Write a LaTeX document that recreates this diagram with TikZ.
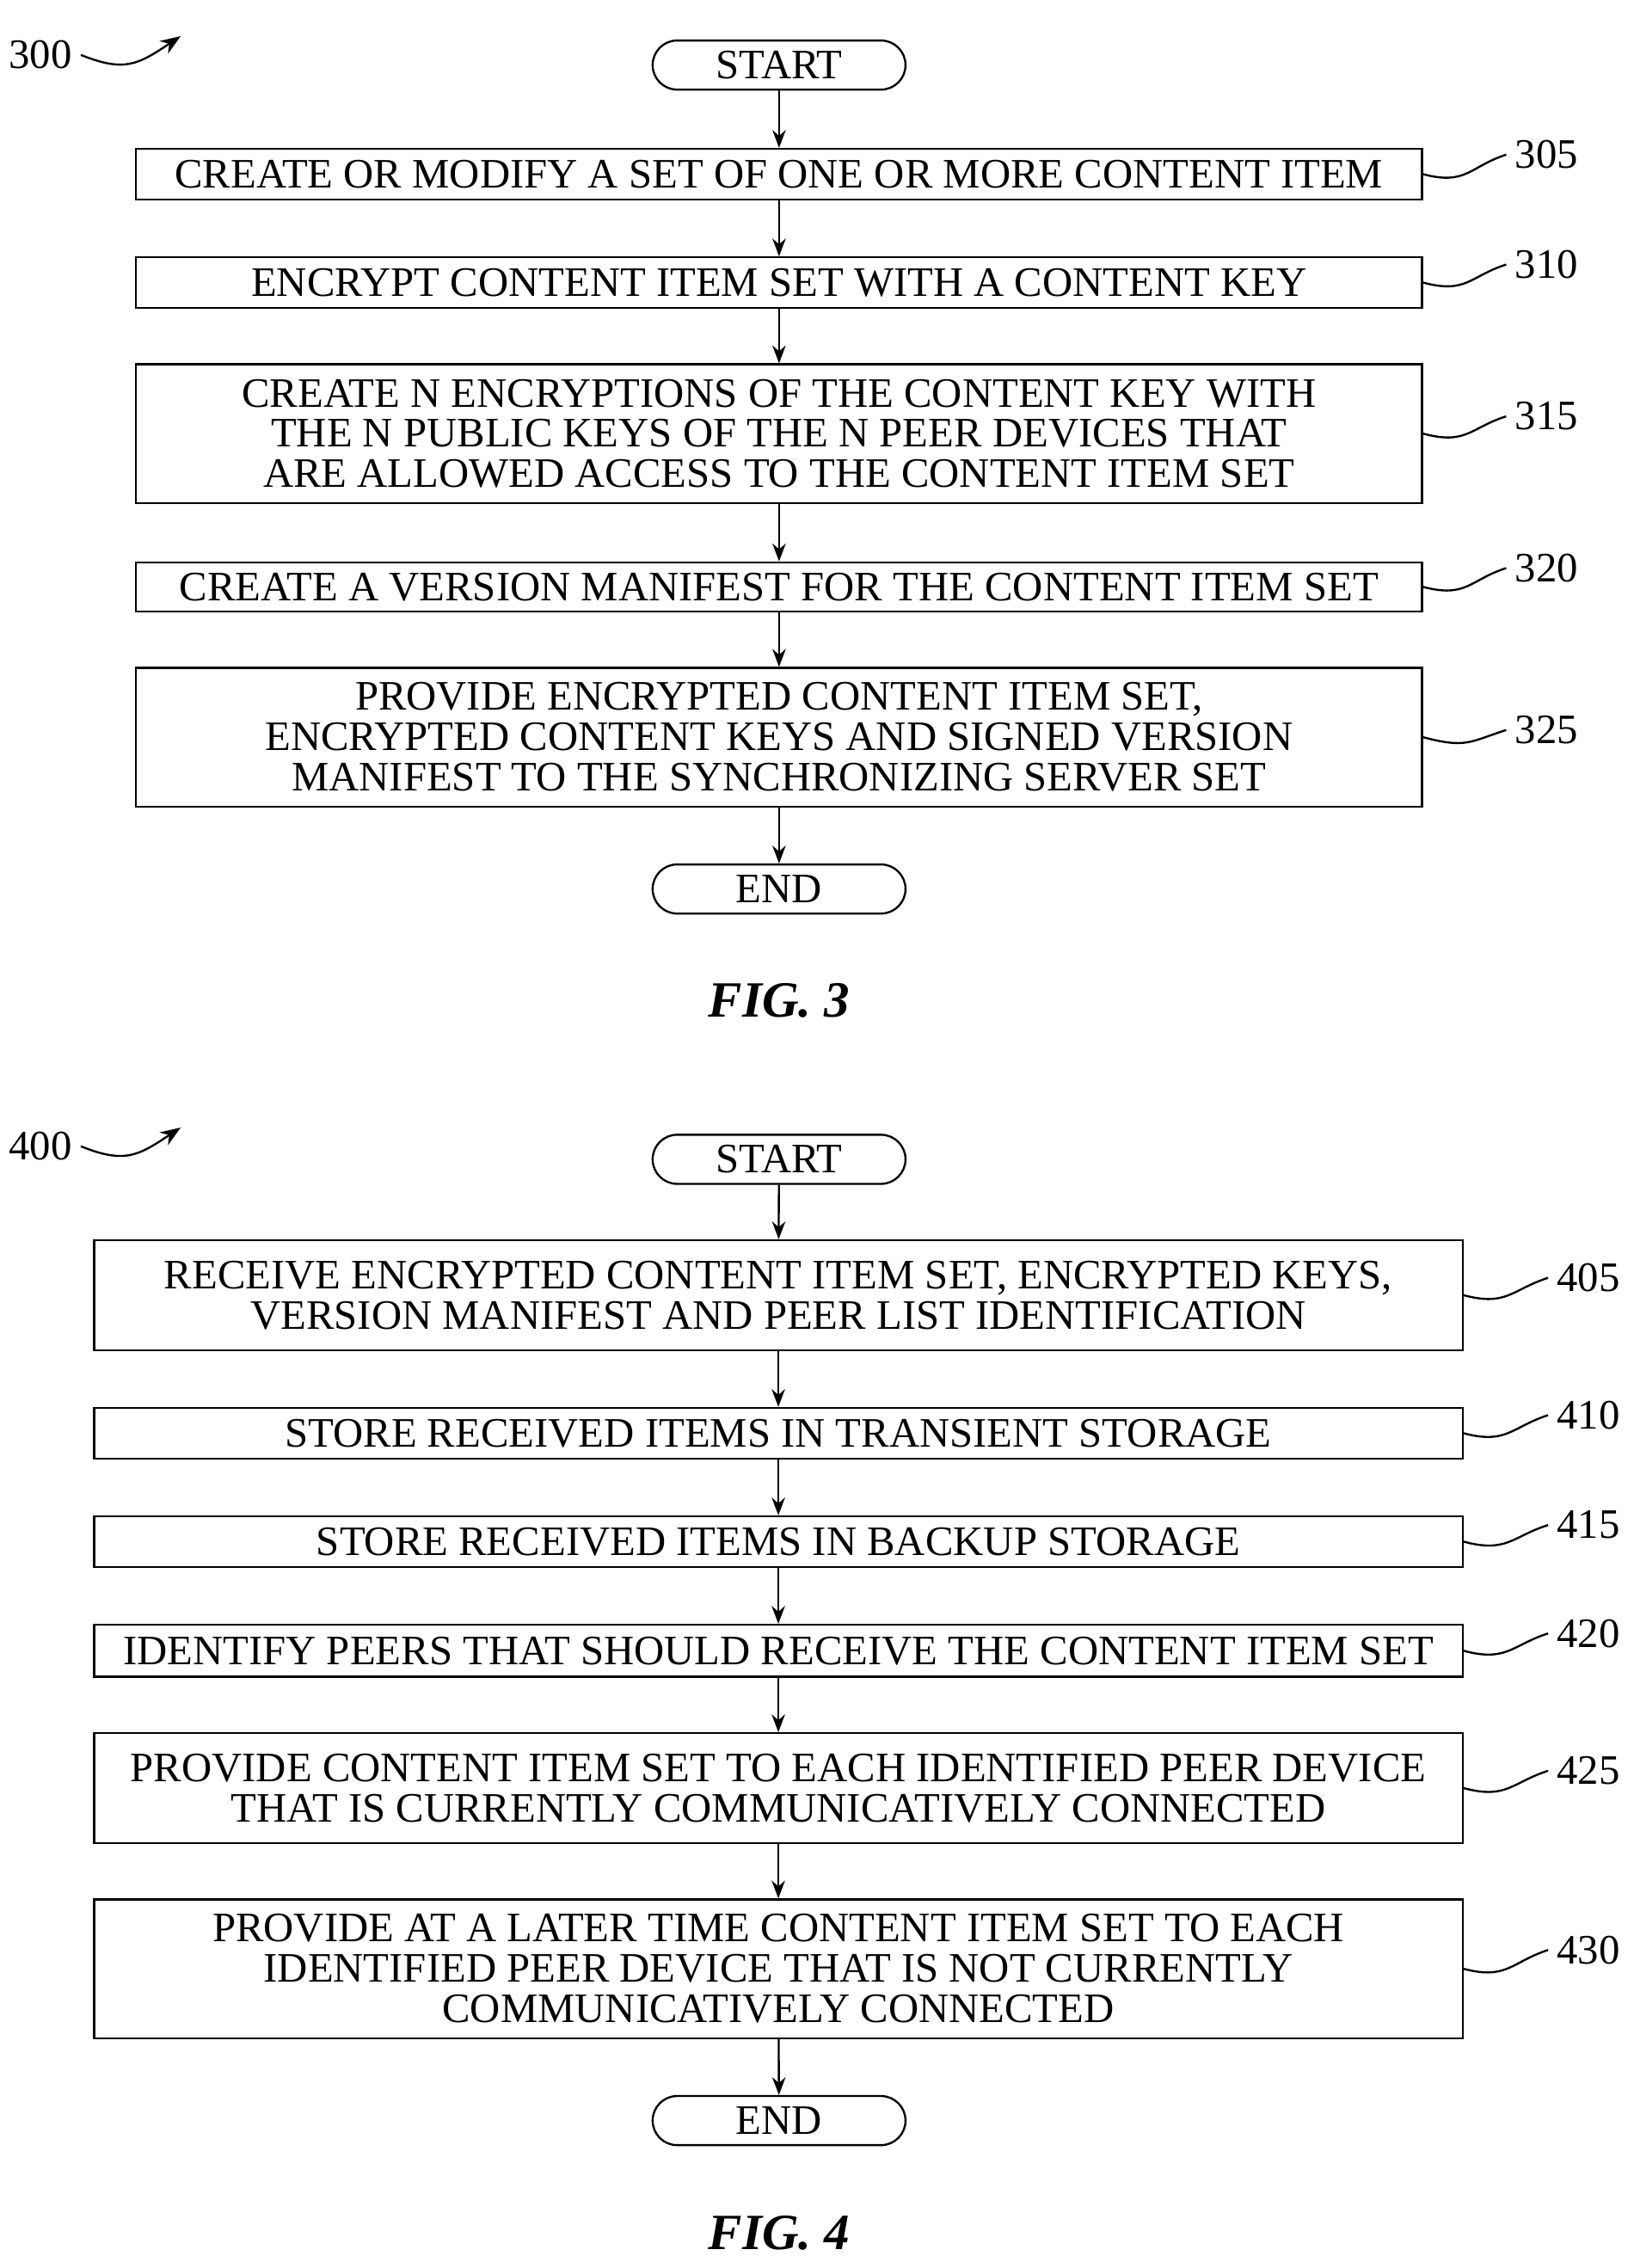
\documentclass[tikz,border=0pt]{standalone}
\usepackage{fontspec}
\setmainfont{Liberation Serif}
\usetikzlibrary{arrows.meta}
\tikzset{
  step/.style={draw,thick,align=center,inner sep=0pt,minimum height=#1},
  narrow/.style={minimum width=17.8cm},
  wide/.style={minimum width=18.94cm},
  term/.style={draw,thick,rounded corners=0.34cm,minimum width=3.5cm,minimum height=0.68cm,inner sep=0pt},
  flow/.style={->,thick,>={Stealth[length=7pt]}},
  ref/.style={thick},
  fig/.style={font=\fontsize{20}{22}\selectfont\bfseries\itshape}
}
\begin{document}
\begin{tikzpicture}[x=0.02cm,y=-0.02cm,font=\fontsize{16.5}{15.9}\selectfont]
\useasboundingbox (0,0) rectangle (1130,1569);
% FIG. 3
\node[term] (s3) at (539,45) {START};
\node[step=0.7cm,narrow] (b305) at (539,120.5) {CREATE OR MODIFY A SET OF ONE OR MORE CONTENT ITEM};
\node[step=0.7cm,narrow] (b310) at (539,195.5) {ENCRYPT CONTENT ITEM SET WITH A CONTENT KEY};
\node[step=1.92cm,narrow] (b315) at (539,300) {CREATE N ENCRYPTIONS OF THE CONTENT KEY WITH\\THE N PUBLIC KEYS OF THE N PEER DEVICES THAT\\ARE ALLOWED ACCESS TO THE CONTENT ITEM SET};
\node[step=0.68cm,narrow] (b320) at (539,406) {CREATE A VERSION MANIFEST FOR THE CONTENT ITEM SET};
\node[step=1.92cm,narrow] (b325) at (539,510) {PROVIDE ENCRYPTED CONTENT ITEM SET,\\ENCRYPTED CONTENT KEYS AND SIGNED VERSION\\MANIFEST TO THE SYNCHRONIZING SERVER SET};
\node[term] (e3) at (539,615) {END};
\node[fig] (f3) at (539,692) {FIG. 3};
\foreach \a/\b in {s3/b305,b305/b310,b310/b315,b315/b320,b320/b325,b325/e3}
  \draw[flow] (\a) -- (\b);
\foreach \n/\y in {305/107,310/183,315/288,320/393,325/505}{
  \node (l\n) at (1070,\y) {\n};
  \draw[ref] (b\n.east) .. controls +(30,8) and +(-25,8) .. (l\n.west);
}
\node (l300) at (28,38) {300};
\coordinate (a300) at (125,25);
\draw[ref,-{Stealth[length=8pt]}] (l300.east) .. controls +(30,12) and +(-30,20) .. (a300);
% FIG. 4
\node[term] (s4) at (539,802) {START};
\node[step=1.52cm,wide] (b405) at (538.5,896) {RECEIVE ENCRYPTED CONTENT ITEM SET, ENCRYPTED KEYS,\\VERSION MANIFEST AND PEER LIST IDENTIFICATION};
\node[step=0.7cm,wide] (b410) at (538.5,991.5) {STORE RECEIVED ITEMS IN TRANSIENT STORAGE};
\node[step=0.7cm,wide] (b415) at (538.5,1066.5) {STORE RECEIVED ITEMS IN BACKUP STORAGE};
\node[step=0.72cm,wide] (b420) at (538.5,1142) {IDENTIFY PEERS THAT SHOULD RECEIVE THE CONTENT ITEM SET};
\node[step=1.52cm,wide] (b425) at (538.5,1237) {PROVIDE CONTENT ITEM SET TO EACH IDENTIFIED PEER DEVICE\\THAT IS CURRENTLY COMMUNICATIVELY CONNECTED};
\node[step=1.92cm,wide] (b430) at (538.5,1362) {PROVIDE AT A LATER TIME CONTENT ITEM SET TO EACH\\IDENTIFIED PEER DEVICE THAT IS NOT CURRENTLY\\COMMUNICATIVELY CONNECTED};
\node[term] (e4) at (539,1467) {END};
\node[fig] (f4) at (539,1545) {FIG. 4};
\foreach \a/\b in {s4/b405,b405/b410,b410/b415,b415/b420,b420/b425,b425/b430,b430/e4}
  \draw[flow] (\a) -- (\b);
\foreach \n/\y in {405/884,410/979,415/1055,420/1130,425/1225,430/1349}{
  \node (l\n) at (1099,\y) {\n};
  \draw[ref] (b\n.east) .. controls +(30,8) and +(-25,8) .. (l\n.west);
}
\node (l400) at (28,793) {400};
\coordinate (a400) at (125,780);
\draw[ref,-{Stealth[length=8pt]}] (l400.east) .. controls +(30,12) and +(-30,20) .. (a400);
\end{tikzpicture}
\end{document}
